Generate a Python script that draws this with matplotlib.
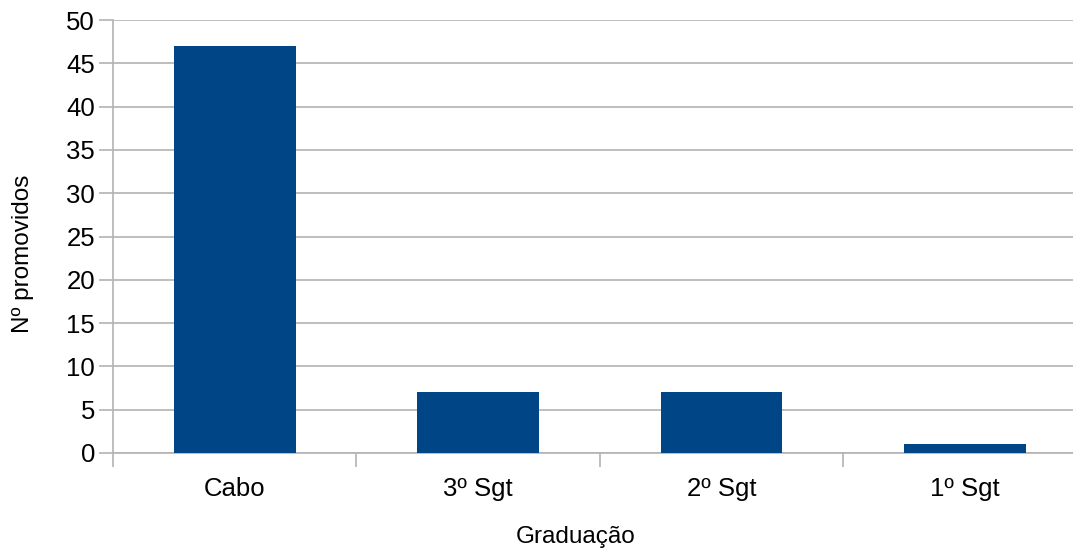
import matplotlib
matplotlib.use("Agg")
import matplotlib.pyplot as plt
import numpy as np

# promotions by rank
categorias = ["Cabo", "3º Sgt", "2º Sgt", "1º Sgt"]
promovidos = [47, 7, 7, 1]
y_ticks = [0, 5, 10, 15, 20, 25, 30, 35, 40, 45, 50]

plt.rcParams['font.family'] = ['Liberation Sans', 'DejaVu Sans']

fig = plt.figure(figsize=(10.73, 5.49), dpi=100)
ax = fig.add_axes([113 / 1073, 1 - 453 / 549, 1 - 113 / 1073, (453 - 20) / 549])

x = np.arange(len(categorias))
ax.bar(x, promovidos, width=0.5, color='#004586', zorder=3)

grid_col = '#b3b3b3'
ax.set_ylim(0, 50)
ax.set_yticks(y_ticks)
ax.yaxis.grid(True, color=grid_col, linewidth=1.2, zorder=0)
ax.set_xlim(-0.5, (1073 - 235) / 243.3)

# category labels centred, tick marks on the boundaries
ax.set_xticks(x)
ax.set_xticklabels(categorias)
ax.set_xticks(np.arange(len(categorias)) - 0.5, minor=True)
ax.tick_params(axis='x', which='major', length=0, pad=17, labelsize=18.5)
ax.tick_params(axis='x', which='minor', length=10, width=1.2, color=grid_col)
ax.tick_params(axis='y', length=10, width=1.2, color=grid_col, labelsize=18.5, pad=3)

for s in ['top', 'right']:
    ax.spines[s].set_visible(False)
for s in ['left', 'bottom']:
    ax.spines[s].set_color(grid_col)
    ax.spines[s].set_linewidth(1.2)

ax.set_xlabel('Graduação', fontsize=17.5, va='center')
ax.xaxis.set_label_coords((576 - 113) / 960, (453 - 537) / 433)
ax.set_ylabel('Nº promovidos', fontsize=17.5, va='center')
ax.yaxis.set_label_coords((23 - 113) / 960, (453 - 254) / 433)

fig.savefig('out.png', dpi=100)
